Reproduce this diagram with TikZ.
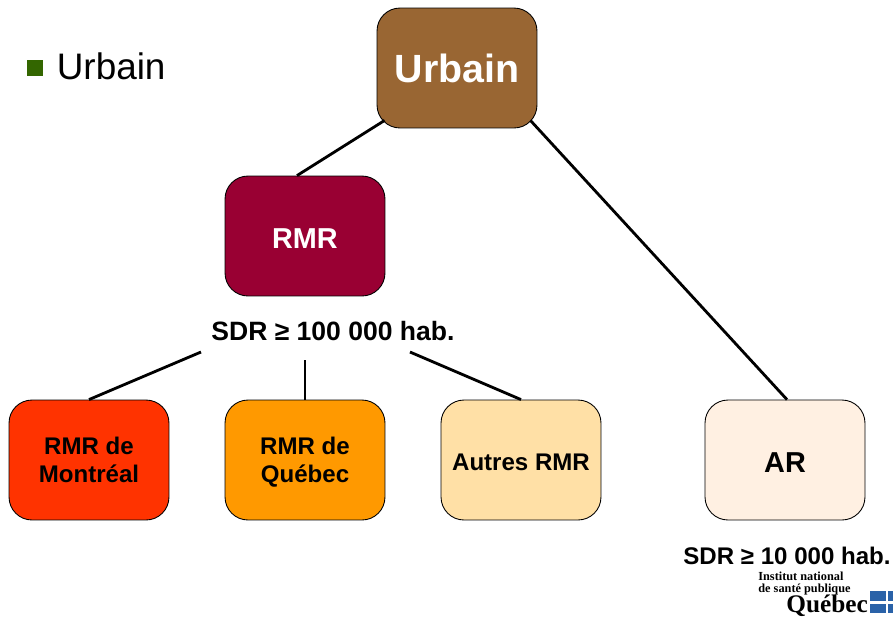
\documentclass[tikz,border=0pt]{standalone}
\usepackage{fontspec}
\setmainfont{Liberation Sans}
\newfontfamily\logofont{Liberation Serif}
\usepackage{tikz}
\usetikzlibrary{calc,positioning}
\definecolor{flagblue}{HTML}{2A62A8}
\tikzset{
  box/.style={draw=black,line width=0.5pt,rounded corners=0.46cm,minimum width=3.2cm,minimum height=2.4cm,inner sep=0pt,align=center,font=\fontsize{13.7}{15.9}\selectfont\bfseries},
  link/.style={line width=1.6pt},
  sdrlabel/.style={inner sep=0pt,font=\fontsize{15.1}{18}\selectfont\bfseries},
  logotext/.style={inner sep=0pt,anchor=base west,font=\logofont\bfseries\fontsize{7}{8}\selectfont},
  flagpart/.style={fill=flagblue}
}
\begin{document}
\begin{tikzpicture}[x=0.02cm,y=-0.02cm]
  \useasboundingbox (0,0) rectangle (893,620);
  \fill[fill=white] (0,0) rectangle (893,620);
  \fill[fill={rgb,255:red,51;green,102;blue,0}] (27,60) rectangle (43,76);
  \node[anchor=base west,inner sep=0pt,font=\fontsize{21}{24}\selectfont] (title) at (56.5,79) {Urbain};
  \node[box,text height=17.2pt,fill={rgb,255:red,153;green,102;blue,51},text=white,font=\fontsize{22.4}{26}\selectfont\bfseries] (urbain) at (457,68) {Urbain};
  \node[box,text height=14pt,fill={rgb,255:red,153;green,0;blue,51},text=white,font=\fontsize{16.4}{19}\selectfont\bfseries] (rmr) at (305,236) {RMR};
  \node[box,fill={rgb,255:red,255;green,51;blue,0}] (montreal) at (89,460) {RMR de\\Montréal};
  \node[box,text depth=0pt,fill={rgb,255:red,255;green,153;blue,0}] (quebec) at (305,460) {RMR de\\Québec};
  \node[box,text height=12.1pt,fill={rgb,255:red,255;green,224;blue,166}] (autres) at (521,460) {Autres RMR};
  \node[box,text height=14pt,fill={rgb,255:red,255;green,240;blue,226},font=\fontsize{16.4}{19}\selectfont\bfseries] (ar) at (785,460) {AR};
  \node[sdrlabel] (sdrrmr) at (333,331) {SDR ≥ 100 000 hab.};
  \node[sdrlabel,font=\fontsize{13.7}{17}\selectfont\bfseries] (sdrar) at (787,556) {SDR ≥ 10 000 hab.};
  \coordinate (sdrleft) at (201,352);
  \coordinate (sdrmid) at (305,360);
  \coordinate (sdrright) at (410,352);
  \draw[link] ($(urbain.south west)+(8,-8)$)--($(rmr.north)+(-8,0)$);
  \draw[link] ($(urbain.south east)+(-7,-8)$)--($(ar.north)+(2,0)$);
  \draw[link] (sdrleft)--(montreal.north);
  \draw[link] (sdrmid)--(quebec.north);
  \draw[link] (sdrright)--(autres.north);
  \node[logotext] (logoa) at (758,580) {Institut national};
  \node[logotext] (logob) at (758,592) {de santé publique};
  \node[logotext,font=\logofont\bfseries\fontsize{14.4}{16}\selectfont] (logoc) at (786,612) {Québec};
  \fill[flagpart] (870,591) rectangle (886,601);
  \fill[flagpart] (888,591) rectangle (893,601);
  \fill[flagpart] (870,604) rectangle (886,613);
  \fill[flagpart] (888,604) rectangle (893,613);
\end{tikzpicture}
\end{document}
